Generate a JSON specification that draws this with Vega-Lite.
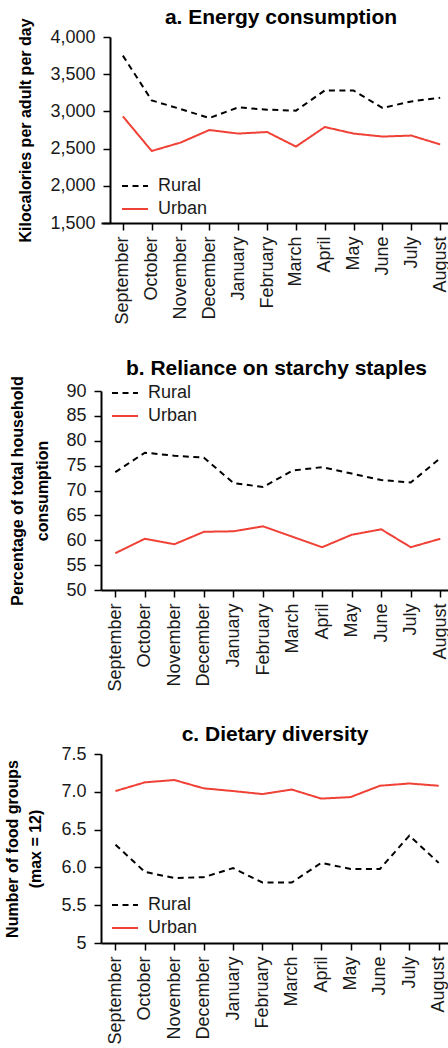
{
  "$schema": "https://vega.github.io/schema/vega-lite/v6.json",
  "padding": {"left": 3, "top": 6, "right": 0, "bottom": 0},
  "spacing": 32,
  "resolve": {"legend": {"color": "independent", "strokeDash": "independent"}},
  "config": {
    "font": "Liberation Sans",
    "view": {"stroke": null},
    "axis": {"domainColor": "black", "domainWidth": 2, "tickColor": "black", "tickWidth": 1.5, "tickSize": 7, "labelPadding": 7, "labelFontSize": 18, "labelColor": "#1a1a1a", "labelFont": "Liberation Sans", "titleFont": "Liberation Sans", "titleFontSize": 16, "titleFontWeight": "bold", "titleColor": "black", "grid": false},
    "axisX": {"labelPadding": 6},
    "legend": {"orient": "none", "title": null, "labelFontSize": 18, "labelFont": "Liberation Sans", "labelColor": "#1a1a1a", "labelOffset": 9, "symbolStrokeWidth": 2, "symbolSize": 676, "symbolType": "stroke", "rowPadding": -6},
    "title": {"fontSize": 21, "font": "Liberation Sans", "fontWeight": "bold", "color": "black"}
  },
  "datasets": {
    "a": [
      {"month": "September", "area": "Rural", "value": 3750},
      {"month": "October", "area": "Rural", "value": 3148},
      {"month": "November", "area": "Rural", "value": 3032},
      {"month": "December", "area": "Rural", "value": 2911},
      {"month": "January", "area": "Rural", "value": 3054},
      {"month": "February", "area": "Rural", "value": 3023},
      {"month": "March", "area": "Rural", "value": 3010},
      {"month": "April", "area": "Rural", "value": 3282},
      {"month": "May", "area": "Rural", "value": 3280},
      {"month": "June", "area": "Rural", "value": 3046},
      {"month": "July", "area": "Rural", "value": 3134},
      {"month": "August", "area": "Rural", "value": 3184},
      {"month": "September", "area": "Urban", "value": 2933},
      {"month": "October", "area": "Urban", "value": 2468},
      {"month": "November", "area": "Urban", "value": 2581},
      {"month": "December", "area": "Urban", "value": 2750},
      {"month": "January", "area": "Urban", "value": 2702},
      {"month": "February", "area": "Urban", "value": 2723},
      {"month": "March", "area": "Urban", "value": 2527},
      {"month": "April", "area": "Urban", "value": 2790},
      {"month": "May", "area": "Urban", "value": 2702},
      {"month": "June", "area": "Urban", "value": 2662},
      {"month": "July", "area": "Urban", "value": 2675},
      {"month": "August", "area": "Urban", "value": 2556}
    ],
    "b": [
      {"month": "September", "area": "Rural", "value": 73.7},
      {"month": "October", "area": "Rural", "value": 77.6},
      {"month": "November", "area": "Rural", "value": 77.0},
      {"month": "December", "area": "Rural", "value": 76.6},
      {"month": "January", "area": "Rural", "value": 71.5},
      {"month": "February", "area": "Rural", "value": 70.7},
      {"month": "March", "area": "Rural", "value": 74.0},
      {"month": "April", "area": "Rural", "value": 74.7},
      {"month": "May", "area": "Rural", "value": 73.4},
      {"month": "June", "area": "Rural", "value": 72.1},
      {"month": "July", "area": "Rural", "value": 71.6},
      {"month": "August", "area": "Rural", "value": 76.5},
      {"month": "September", "area": "Urban", "value": 57.4},
      {"month": "October", "area": "Urban", "value": 60.3},
      {"month": "November", "area": "Urban", "value": 59.2},
      {"month": "December", "area": "Urban", "value": 61.7},
      {"month": "January", "area": "Urban", "value": 61.8},
      {"month": "February", "area": "Urban", "value": 62.8},
      {"month": "March", "area": "Urban", "value": 60.7},
      {"month": "April", "area": "Urban", "value": 58.6},
      {"month": "May", "area": "Urban", "value": 61.1},
      {"month": "June", "area": "Urban", "value": 62.2},
      {"month": "July", "area": "Urban", "value": 58.6},
      {"month": "August", "area": "Urban", "value": 60.3}
    ],
    "c": [
      {"month": "September", "area": "Rural", "value": 6.30},
      {"month": "October", "area": "Rural", "value": 5.94},
      {"month": "November", "area": "Rural", "value": 5.86},
      {"month": "December", "area": "Rural", "value": 5.87},
      {"month": "January", "area": "Rural", "value": 5.99},
      {"month": "February", "area": "Rural", "value": 5.80},
      {"month": "March", "area": "Rural", "value": 5.80},
      {"month": "April", "area": "Rural", "value": 6.06},
      {"month": "May", "area": "Rural", "value": 5.98},
      {"month": "June", "area": "Rural", "value": 5.98},
      {"month": "July", "area": "Rural", "value": 6.42},
      {"month": "August", "area": "Rural", "value": 6.06},
      {"month": "September", "area": "Urban", "value": 7.01},
      {"month": "October", "area": "Urban", "value": 7.125},
      {"month": "November", "area": "Urban", "value": 7.156},
      {"month": "December", "area": "Urban", "value": 7.046},
      {"month": "January", "area": "Urban", "value": 7.01},
      {"month": "February", "area": "Urban", "value": 6.97},
      {"month": "March", "area": "Urban", "value": 7.03},
      {"month": "April", "area": "Urban", "value": 6.91},
      {"month": "May", "area": "Urban", "value": 6.93},
      {"month": "June", "area": "Urban", "value": 7.08},
      {"month": "July", "area": "Urban", "value": 7.11},
      {"month": "August", "area": "Urban", "value": 7.08}
    ]
  },
  "vconcat": [
    {
      "title": {"text": "a. Energy consumption", "dx": 5.5, "offset": -10},
      "width": 349, "height": 186,
      "data": {"name": "a"},
      "mark": {"type": "line", "strokeWidth": 2},
      "encoding": {
        "x": {"field": "month", "type": "ordinal", "sort": ["September","October","November","December","January","February","March","April","May","June","July","August"], "scale": {"type": "point", "padding": 0.549, "align": 0.69}, "axis": {"title": null, "labelAngle": -90}},
        "y": {"field": "value", "type": "quantitative", "scale": {"domain": [1500, 4000], "nice": false, "zero": false}, "axis": {"values": [1500, 2000, 2500, 3000, 3500, 4000], "format": ",d", "title": "Kilocalories per adult per day", "titleX": -77, "offset": -9, "labelPadding": 8}},
        "color": {"field": "area", "type": "nominal", "scale": {"domain": ["Rural", "Urban"], "range": ["black", "#ef4136"]}, "legend": {"legendX": 20, "legendY": 135}},
        "strokeDash": {"field": "area", "type": "nominal", "scale": {"domain": ["Rural", "Urban"], "range": [[6, 4.5], [1, 0]]}, "legend": {"legendX": 20, "legendY": 135}}
      }
    },
    {
      "title": {"text": "b. Reliance on starchy staples", "dx": 1, "offset": -3},
      "width": 349, "height": 199,
      "data": {"name": "b"},
      "mark": {"type": "line", "strokeWidth": 2},
      "encoding": {
        "x": {"field": "month", "type": "ordinal", "sort": ["September","October","November","December","January","February","March","April","May","June","July","August"], "scale": {"type": "point", "padding": 0.406, "align": 0.596}, "axis": {"title": null, "labelAngle": -90}},
        "y": {"field": "value", "type": "quantitative", "scale": {"domain": [50, 90], "nice": false, "zero": false}, "axis": {"values": [50, 55, 60, 65, 70, 75, 80, 85, 90], "title": ["Percentage of total household", "consumption"], "titleX": -76, "titleLineHeight": 25, "labelPadding": 8}},
        "color": {"field": "area", "type": "nominal", "scale": {"domain": ["Rural", "Urban"], "range": ["black", "#ef4136"]}, "legend": {"legendX": 10, "legendY": -12}},
        "strokeDash": {"field": "area", "type": "nominal", "scale": {"domain": ["Rural", "Urban"], "range": [[6, 4.5], [1, 0]]}, "legend": {"legendX": 10, "legendY": -12}}
      }
    },
    {
      "title": {"text": "c. Dietary diversity", "dx": -0.5, "offset": 0},
      "width": 349, "height": 189,
      "data": {"name": "c"},
      "mark": {"type": "line", "strokeWidth": 2},
      "encoding": {
        "x": {"field": "month", "type": "ordinal", "sort": ["September","October","November","December","January","February","March","April","May","June","July","August"], "scale": {"type": "point", "padding": 0.439, "align": 0.562}, "axis": {"title": null, "labelAngle": -90}},
        "y": {"field": "value", "type": "quantitative", "scale": {"domain": [5, 7.5], "nice": false, "zero": false}, "axis": {"values": [5, 5.5, 6, 6.5, 7, 7.5], "labelExpr": "datum.value == 5 ? '5' : format(datum.value, '.1f')", "title": ["Number of food groups", "(max = 12)"], "titleX": -81, "titleLineHeight": 23, "labelPadding": 8}},
        "color": {"field": "area", "type": "nominal", "scale": {"domain": ["Rural", "Urban"], "range": ["black", "#ef4136"]}, "legend": {"legendX": 10, "legendY": 137}},
        "strokeDash": {"field": "area", "type": "nominal", "scale": {"domain": ["Rural", "Urban"], "range": [[6, 4.5], [1, 0]]}, "legend": {"legendX": 10, "legendY": 137}}
      }
    }
  ]
}
